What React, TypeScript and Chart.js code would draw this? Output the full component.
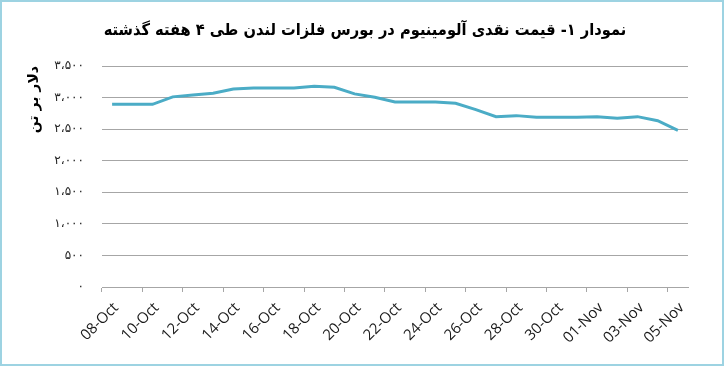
import React, { useEffect, useRef } from 'react';
import { Chart, registerables } from 'chart.js';

Chart.register(...registerables);

const chartTitle = 'نمودار ۱- قیمت نقدی آلومینیوم در بورس فلزات لندن طی ۴ هفته گذشته';
const yAxisTitle = 'دلار بر تن';

const dates = [
  '08-Oct', '09-Oct', '10-Oct', '11-Oct', '12-Oct', '13-Oct', '14-Oct', '15-Oct',
  '16-Oct', '17-Oct', '18-Oct', '19-Oct', '20-Oct', '21-Oct', '22-Oct', '23-Oct',
  '24-Oct', '25-Oct', '26-Oct', '27-Oct', '28-Oct', '29-Oct', '30-Oct', '31-Oct',
  '01-Nov', '02-Nov', '03-Nov', '04-Nov', '05-Nov',
];

const prices = [
  2893, 2893, 2893, 3011, 3042, 3068, 3137, 3153,
  3153, 3153, 3179, 3163, 3058, 3004, 2931, 2931,
  2931, 2909, 2809, 2698, 2714, 2687, 2687, 2687,
  2698, 2671, 2698, 2634, 2482,
];

const yTickValues = [0, 500, 1000, 1500, 2000, 2500, 3000, 3500];
const yTickLabels = ['۰', '۵۰۰', '۱،۰۰۰', '۱،۵۰۰', '۲،۰۰۰', '۲،۵۰۰', '۳،۰۰۰', '۳،۵۰۰'];

const titlePlugin = {
  id: 'persianTitle',
  afterDraw(chart: any) {
    const ctx = chart.ctx;
    ctx.save();
    ctx.font = 'bold 16.3px "DejaVu Sans Condensed", "DejaVu Sans", sans-serif';
    ctx.fillStyle = '#000';
    ctx.textAlign = 'center';
    ctx.textBaseline = 'middle';
    ctx.fillText(chartTitle, 365, 31);
    ctx.restore();
  },
};

export default function App() {
  const canvasRef = useRef<HTMLCanvasElement | null>(null);

  useEffect(() => {
    document.body.style.margin = '0';
    const canvas = canvasRef.current;
    if (!canvas) return;
    const chart = new Chart(canvas, {
      type: 'line',
      data: {
        labels: dates,
        datasets: [
          {
            data: prices,
            borderColor: '#4bacc6',
            backgroundColor: '#4bacc6',
            borderWidth: 3,
            pointRadius: 0,
            tension: 0,
            fill: false,
          },
        ],
      },
      options: {
        responsive: false,
        animation: false,
        devicePixelRatio: 1,
        layout: { padding: { top: 66, right: 36, bottom: 0, left: 0 } },
        plugins: {
          legend: { display: false },
          tooltip: { enabled: false },
          title: { display: false },
        },
        scales: {
          x: {
            type: 'category',
            offset: true,
            grid: {
              offset: true,
              drawOnChartArea: false,
              drawTicks: true,
              tickLength: 5,
              tickColor: (ctx: any) => (ctx.index % 2 === 0 && ctx.index < dates.length ? '#a6a6a6' : 'rgba(0,0,0,0)'),
            },
            border: { display: true, color: '#a6a6a6', width: 1 },
            ticks: {
              autoSkip: false,
              minRotation: 45,
              maxRotation: 45,
              padding: 7,
              labelOffset: 4,
              color: '#1a1a1a',
              font: { family: 'Open Sans', size: 15 },
              callback: (_v: any, i: number) => (i % 2 === 0 ? dates[i] : ''),
            },
            afterFit: (scale: any) => {
              scale.height = 79;
            },
          },
          y: {
            min: 0,
            max: 3500,
            afterBuildTicks: (scale: any) => {
              scale.ticks = yTickValues.map((v) => ({ value: v }));
            },
            grid: { color: '#a6a6a6', lineWidth: 1, drawTicks: false },
            border: { display: false },
            ticks: {
              padding: 18,
              color: '#222',
              font: { family: 'DejaVu Sans', size: 12 },
              callback: (v: any) => {
                const i = yTickValues.indexOf(Number(v));
                return i >= 0 ? yTickLabels[i] : '';
              },
            },
            title: {
              display: true,
              text: yAxisTitle,
              align: 'end',
              color: '#000',
              font: { family: 'DejaVu Sans', size: 14, weight: 'bold' },
              padding: { top: 26, bottom: 0 },
            },
            afterFit: (scale: any) => {
              scale.width = 102;
            },
          },
        },
      },
      plugins: [titlePlugin],
    });
    return () => chart.destroy();
  }, []);

  return (
    <div style={{ position: 'relative', width: 724, height: 366 }}>
      <canvas ref={canvasRef} width={724} height={366} style={{ display: 'block', width: 724, height: 366 }} />
      <div
        style={{
          position: 'absolute',
          left: 0,
          top: 0,
          width: 724,
          height: 366,
          boxSizing: 'border-box',
          border: '2px solid #9dd3e2',
          pointerEvents: 'none',
        }}
      />
    </div>
  );
}
